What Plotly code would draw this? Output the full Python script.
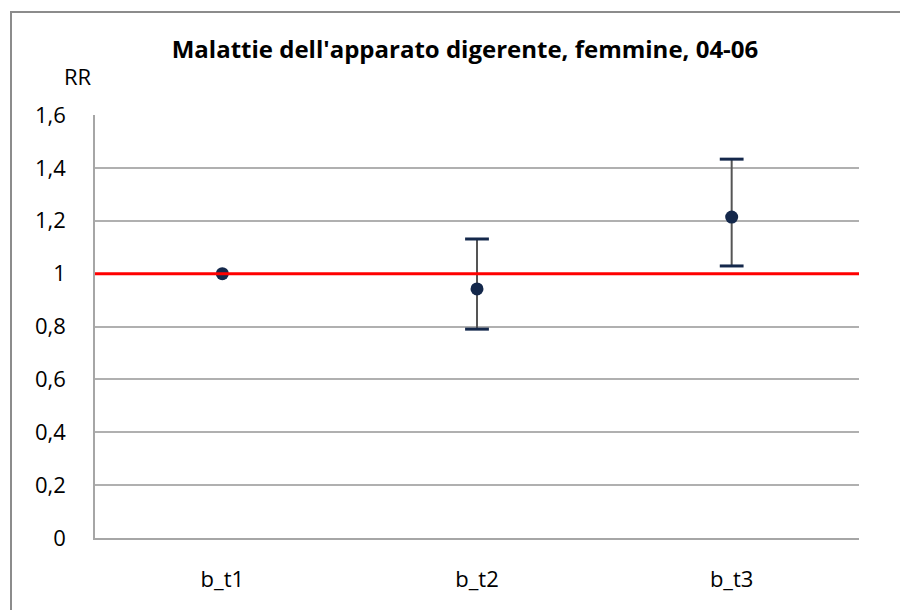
import plotly.graph_objects as go

# dati
categorie = ['b_t1', 'b_t2', 'b_t3']
rr = [1.0, 0.942, 1.214]
rr_sup = [1.0, 1.131, 1.433]
rr_inf = [1.0, 0.79, 1.029]
y_ticks = [0, 0.2, 0.4, 0.6, 0.8, 1.0, 1.2, 1.4, 1.6]

navy = '#14284b'
font_name = 'Open Sans'

# la pagina html ha 8px di margine nel body
off = 8
L, R, T, B = 95 - off, 859 - off, 115 - off, 538 - off
W, H = R - L, B - T

fig = go.Figure()

# stem delle barre di errore (grigio)
fig.add_trace(go.Scatter(
    x=categorie, y=rr, mode='markers',
    marker=dict(size=1, color='rgba(0,0,0,0)'),
    error_y=dict(type='data', symmetric=False,
                 array=[s - v for s, v in zip(rr_sup, rr)],
                 arrayminus=[v - i for v, i in zip(rr, rr_inf)],
                 color='#555555', thickness=2, width=0),
    showlegend=False, hoverinfo='skip'
))

# cappucci (blu scuro)
fig.add_trace(go.Scatter(
    x=categorie[1:] + categorie[1:], y=rr_sup[1:] + rr_inf[1:], mode='markers',
    marker=dict(symbol='line-ew', size=17, line=dict(color=navy, width=3)),
    showlegend=False, hoverinfo='skip'
))

# punti
fig.add_trace(go.Scatter(
    x=categorie, y=rr, mode='markers',
    marker=dict(size=13, color=navy),
    showlegend=False
))

# linea di riferimento RR=1
fig.add_shape(type='line', xref='paper', yref='y', x0=0, x1=1, y0=1, y1=1,
              line=dict(color='#ff0000', width=3), layer='above')

# cornice esterna
fig.add_shape(type='rect', xref='paper', yref='paper',
              x0=(11 - off - L) / W, x1=(940 - off - L) / W,
              y0=(B - 660) / H, y1=(B - (12 - off)) / H,
              line=dict(color='#8c8c8c', width=2), fillcolor='rgba(0,0,0,0)')

fig.add_annotation(text='RR', xref='paper', yref='paper',
                   x=(78 - off - L) / W, y=(B - (76 - off)) / H,
                   xanchor='center', yanchor='middle', showarrow=False,
                   font=dict(family=font_name, size=22, color='#000000'))

fig.update_layout(
    title=dict(text="<b>Malattie dell'apparato digerente, femmine, 04-06</b>",
               x=(465 - off) / 908, xanchor='center',
               y=1 - (50 - off) / 610, yanchor='middle',
               font=dict(family=font_name, size=24, color='#000000')),
    width=908, height=610,
    margin=dict(l=L, r=908 - R, t=T, b=610 - B),
    paper_bgcolor='white', plot_bgcolor='white',
    separators=',.',
    font=dict(family=font_name, size=22, color='#000000'),
    xaxis=dict(type='category', range=[-0.5, 2.5], showgrid=False,
               showline=True, linecolor='#a6a6a6', linewidth=1.5, ticks='',
               ticklabelstandoff=21, tickfont=dict(size=22)),
    yaxis=dict(range=[0, 1.6], tickvals=y_ticks, showgrid=True,
               gridcolor='#b0b0b0', gridwidth=1.5, zeroline=False,
               showline=True, linecolor='#a6a6a6', linewidth=1.5,
               ticks='', ticklabelstandoff=23, tickfont=dict(size=22)),
)

fig.write_html('out.html')
